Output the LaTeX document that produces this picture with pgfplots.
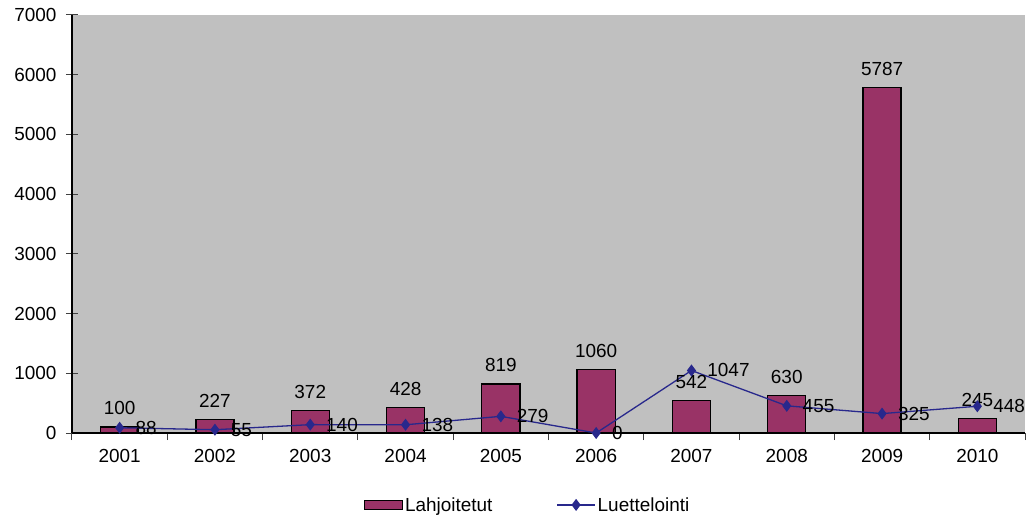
\documentclass[border=0pt]{standalone}
\usepackage{pgfplots}
\pgfplotsset{compat=1.18}
\usepackage{pgfplotstable}
\usepackage{fontspec}
\setmainfont{Liberation Sans}
\usetikzlibrary{calc}
\definecolor{barfill}{RGB}{153,51,102}
\definecolor{linecol}{RGB}{40,40,140}
\definecolor{plotbg}{RGB}{192,192,192}
\newcommand{\lblfont}{\fontsize{19}{22}\selectfont}

\pgfplotsset{
    barlegend/.style={legend image code/.code={\draw[##1] (0bp,-4.5bp) rectangle (38bp,4.5bp);}},
    linelegend/.style={legend image code/.code={\draw[mark repeat=2, mark phase=2, ##1] plot coordinates {(0bp,0bp) (19bp,0bp) (38bp,0bp)};}},
}

% year index, value
\pgfplotstableread{
x  y
1  100
2  227
3  372
4  428
5  819
6  1060
7  542
8  630
9  5787
10 245
}\lahjoitetut
\pgfplotstableread{
x  y
1  88
2  55
3  140
4  138
5  279
6  0
7  1047
8  455
9  325
10 448
}\luettelointi

\begin{document}
\begin{tikzpicture}
\begin{axis}[
    name=ax, at={(0,0)}, anchor=south west,
    scale only axis, width=953bp, height=418bp,
    xmin=0.5, xmax=10.5, ymin=0, ymax=7000,
    axis x line*=bottom, axis y line*=left,
    x axis line style={-, line width=1.2bp},
    y axis line style={-, line width=1.2bp},
    axis background/.style={fill=plotbg},
    xtick={1,...,10},
    xticklabels={2001,2002,2003,2004,2005,2006,2007,2008,2009,2010},
    major x tick style={draw=none},
    minor xtick={0.5,1.5,...,10.5},
    minor x tick style={black!75, line width=1bp},
    xtick align=outside,
    minor tick length=7bp,
    ytick={0,1000,...,7000},
    ytick align=center,
    major tick length=12bp,
    y tick style={black!75, line width=1bp},
    ticklabel style={font=\lblfont},
    xticklabel style={yshift=-1bp},
    yticklabel style={xshift=-6bp},
    /pgf/number format/1000 sep={},
    /pgf/number format/assume math mode=true,
    clip=false,
    legend style={at={(0.478,-0.172)}, anchor=center, draw=none, fill=none,
        font=\lblfont, legend columns=2,
        /tikz/every even column/.style={column sep=62bp}},
]
\addplot[ybar, bar width=0.4, fill=barfill, draw=black, line width=1.3bp,
    nodes near coords,
    nodes near coords style={text=black, font=\lblfont, anchor=south, yshift=8bp,
        /pgf/number format/1000 sep={}, /pgf/number format/assume math mode=true},
    barlegend]
    table[x=x, y=y] {\lahjoitetut};
\addlegendentry{Lahjoitetut}
\addplot[color=linecol, line width=1.3bp, mark=diamond*, mark size=5bp,
    mark options={fill=linecol},
    nodes near coords,
    nodes near coords style={text=black, font=\lblfont, anchor=west, xshift=12bp,
        /pgf/number format/1000 sep={}, /pgf/number format/assume math mode=true},
    linelegend]
    table[x=x, y=y] {\luettelointi};
\addlegendentry{Luettelointi}
\end{axis}
\pgfresetboundingbox
\path ($(ax.south west)+(-72bp,-82bp)$) rectangle ($(ax.south west)+(954bp,433bp)$);
\end{tikzpicture}
\end{document}
